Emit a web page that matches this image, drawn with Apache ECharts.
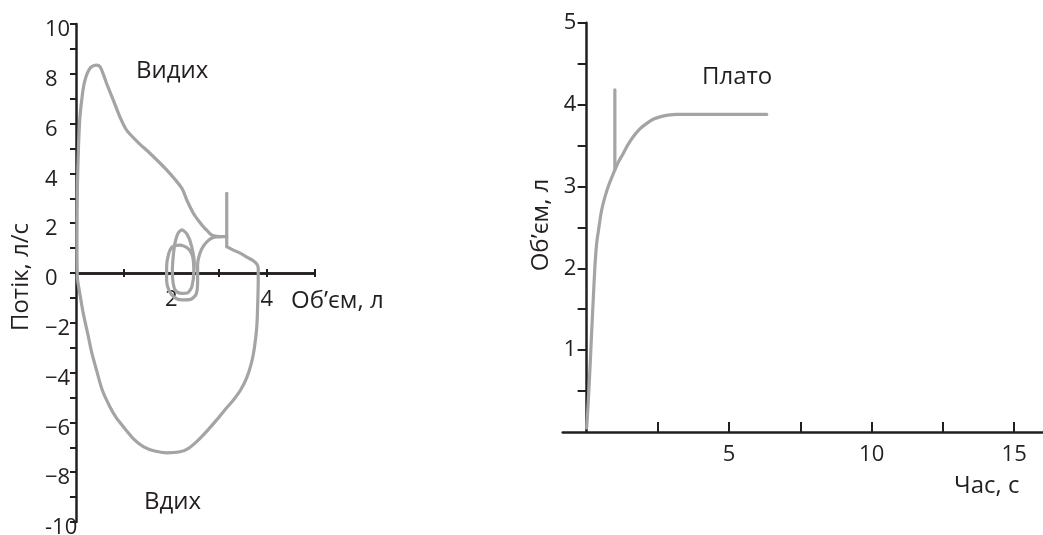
<!DOCTYPE html>
<html>
<head>
<meta charset="utf-8">
<script src="https://cdn.jsdelivr.net/npm/echarts@6/dist/echarts.min.js"></script>
<style>
html,body{margin:0;padding:0;background:#fff;}
#chart{width:1043px;height:535px;}
</style>
</head>
<body>
<div id="chart"></div>
<script>
// ---------- DATA ----------
// Left panel: flow (л/с) vs volume (л)
const flowTicksX = [1, 2, 3, 4, 5];
const flowLabelsX = [2, 4];
const flowLabelsY = [-10, -8, -6, -4, -2, 0, 2, 4, 6, 8, 10];
const bigLoop = [
  [3.16,1.06],[3.3,0.92],[3.44,0.8],[3.6,0.62],[3.71,0.5],[3.79,0.36],[3.82,0.2],[3.82,-0.3],
  [3.81,-1.2],[3.79,-2.16],[3.74,-3.0],[3.68,-3.6],[3.58,-4.2],[3.45,-4.7],[3.3,-5.1],[3.12,-5.5],
  [2.95,-5.9],[2.72,-6.4],[2.53,-6.77],[2.35,-7.05],[2.18,-7.18],[1.9,-7.22],[1.65,-7.15],[1.41,-6.97],
  [1.2,-6.65],[0.99,-6.17],[0.84,-5.8],[0.71,-5.37],[0.55,-4.7],[0.43,-3.9],[0.33,-3.2],[0.26,-2.56],
  [0.15,-1.6],[0.08,-0.82],[0.03,-0.2],[0.02,1.5],[0.03,3.5],[0.05,4.94],[0.08,6.2],[0.12,6.95],
  [0.16,7.5],[0.21,7.88],[0.27,8.15],[0.33,8.29],[0.43,8.35],[0.5,8.29],[0.57,8.0],[0.64,7.62],
  [0.78,6.95],[0.92,6.27],[1.06,5.74],[1.3,5.25],[1.55,4.81],[1.9,4.14],[2.22,3.4],[2.33,2.9],
  [2.46,2.4],[2.57,2.1],[2.67,1.86],[2.76,1.68],[2.84,1.53],[2.95,1.47],[3.16,1.46]
];
const bigSpike = [[3.16,3.2],[3.16,1.06]];
const tidalLoops = [
  [2.46,-0.3],[2.48,0.4],[2.42,1.1],[2.33,1.55],[2.22,1.73],[2.14,1.6],[2.08,1.25],[2.04,0.7],
  [2.02,0.1],[2.04,-0.45],[2.1,-0.74],[2.22,-0.82],[2.34,-0.8],[2.43,-0.55],[2.47,0.1],[2.44,0.7],
  [2.34,1.0],[2.18,1.12],[2.02,1.05],[1.94,0.75],[1.9,0.25],[1.9,-0.3],[1.95,-0.7],[2.06,-0.98],
  [2.22,-1.08],[2.4,-1.06],[2.52,-0.85],[2.55,-0.3],[2.55,0.35],[2.6,0.8],[2.67,1.08],[2.77,1.3],
  [2.88,1.43],[3.05,1.46]
];
// Right panel: volume (л) vs time (с)
const timeTicks = [2.5, 5, 7.5, 10, 12.5, 15];
const timeLabels = [5, 10, 15];
const volTicks = [0.5, 1, 1.5, 2, 2.5, 3, 3.5, 4, 4.5, 5];
const volLabels = [1, 2, 3, 4, 5];
const volumeCurve = [
  [0.0,0.05],[0.06,0.39],[0.12,0.8],[0.18,1.25],[0.23,1.61],[0.29,2.02],[0.35,2.3],[0.41,2.45],
  [0.52,2.7],[0.64,2.87],[0.78,3.02],[0.94,3.16],[1.1,3.29],[1.28,3.40],[1.45,3.51],[1.64,3.61],
  [1.86,3.7],[2.11,3.77],[2.33,3.82],[2.57,3.85],[2.85,3.87],[3.16,3.88],[4.5,3.88],[6.32,3.88]
];
const volumeSpike = [[0.99,4.18],[0.99,3.2]];

// ---------- STYLE ----------
const FONT = '"Open Sans", "DejaVu Sans", sans-serif';
const INK = '#231f20';
const GREY = '#a4a4a4';
const FS = 22;
const TFS = 24;
const axisLine = {onZero: false, lineStyle: {color: INK, width: 2.5}};
const tickStyle = {color: INK, width: 2};
const lbl = {color: INK, fontFamily: FONT, fontSize: FS};
const minusFmt = v => (v === -10 ? '-10' : String(v).replace('-', '\u2212'));

// geometry of the two plotting areas
const G1 = {left: 76, top: 24, width: 238.5, height: 498, containLabel: false, outerBoundsMode: 'none'};
const G2 = {left: 562.7, top: 22.7, width: 480, height: 409.3, containLabel: false, outerBoundsMode: 'none'};
const X2MIN = -0.84, X2MAX = 16;
// offsets that move each axis onto the other axis' zero
const flowZeroOffset = -G1.height / 2;
const timeZeroOffset = -(0 - X2MIN) / (X2MAX - X2MIN) * G2.width;

const lineSeries = (data, x, y) => ({
  type: 'line', data, xAxisIndex: x, yAxisIndex: y, showSymbol: false, symbol: 'none',
  smooth: 0.25, animation: false, silent: true,
  lineStyle: {color: GREY, width: 3.2, cap: 'round', join: 'round'}
});
const straight = (data, x, y) => Object.assign(lineSeries(data, x, y), {smooth: false});

const chart = echarts.init(document.getElementById('chart'), null, {renderer: 'canvas'});
chart.setOption({
  animation: false,
  backgroundColor: '#fff',
  grid: [G1, G2],
  xAxis: [
    {gridIndex: 0, type: 'value', min: 0, max: 5, position: 'bottom', offset: flowZeroOffset,
     axisLine: axisLine, splitLine: {show: false},
     axisTick: {customValues: flowTicksX, length: 4, lineStyle: tickStyle},
     axisLabel: Object.assign({customValues: flowLabelsX, margin: 16}, lbl)},
    {gridIndex: 0, type: 'value', min: 0, max: 5, position: 'top', offset: flowZeroOffset,
     axisLine: axisLine, splitLine: {show: false},
     axisTick: {customValues: flowTicksX, length: 4, lineStyle: tickStyle},
     axisLabel: {show: false}},
    {gridIndex: 1, type: 'value', min: X2MIN, max: X2MAX, position: 'bottom',
     axisLine: axisLine, splitLine: {show: false},
     axisTick: {customValues: timeTicks, inside: true, length: 10, lineStyle: tickStyle},
     axisLabel: Object.assign({customValues: timeLabels, margin: 12}, lbl)}
  ],
  yAxis: [
    {gridIndex: 0, type: 'value', min: -10, max: 10, interval: 1, position: 'left',
     axisLine: axisLine, splitLine: {show: false},
     axisTick: {length: 6, lineStyle: tickStyle},
     axisLabel: Object.assign({customValues: flowLabelsY, margin: 31, align: 'left',
       verticalAlign: 'top', lineHeight: 12, formatter: minusFmt}, lbl)},
    {gridIndex: 1, type: 'value', min: 0, max: 5, position: 'left', offset: timeZeroOffset,
     axisLine: axisLine, splitLine: {show: false},
     axisTick: {customValues: volTicks, length: 9, lineStyle: tickStyle},
     axisLabel: Object.assign({customValues: volLabels, margin: 23, align: 'left'}, lbl)}
  ],
  series: [
    lineSeries(bigLoop, 0, 0),
    straight(bigSpike, 0, 0),
    lineSeries(tidalLoops, 0, 0),
    lineSeries(volumeCurve, 2, 1),
    straight(volumeSpike, 2, 1)
  ],
  graphic: [
    {type: 'text', left: 136, top: 59, style: {text: 'Видих', fill: INK, font: TFS + 'px ' + FONT}},
    {type: 'text', left: 144, top: 490, style: {text: 'Вдих', fill: INK, font: TFS + 'px ' + FONT}},
    {type: 'text', left: 291, top: 289, style: {text: 'Об’єм, л', fill: INK, font: TFS + 'px ' + FONT}},
    {type: 'text', x: 21, y: 277, rotation: Math.PI / 2,
     style: {text: 'Потік, л/с', fill: INK, font: TFS + 'px ' + FONT, align: 'center', verticalAlign: 'middle'}},
    {type: 'text', left: 702, top: 65, style: {text: 'Плато', fill: INK, font: TFS + 'px ' + FONT}},
    {type: 'text', left: 954, top: 474, style: {text: 'Час, с', fill: INK, font: TFS + 'px ' + FONT}},
    {type: 'text', x: 541, y: 225, rotation: Math.PI / 2,
     style: {text: 'Об’єм, л', fill: INK, font: TFS + 'px ' + FONT, align: 'center', verticalAlign: 'middle'}}
  ]
});
</script>
</body>
</html>
